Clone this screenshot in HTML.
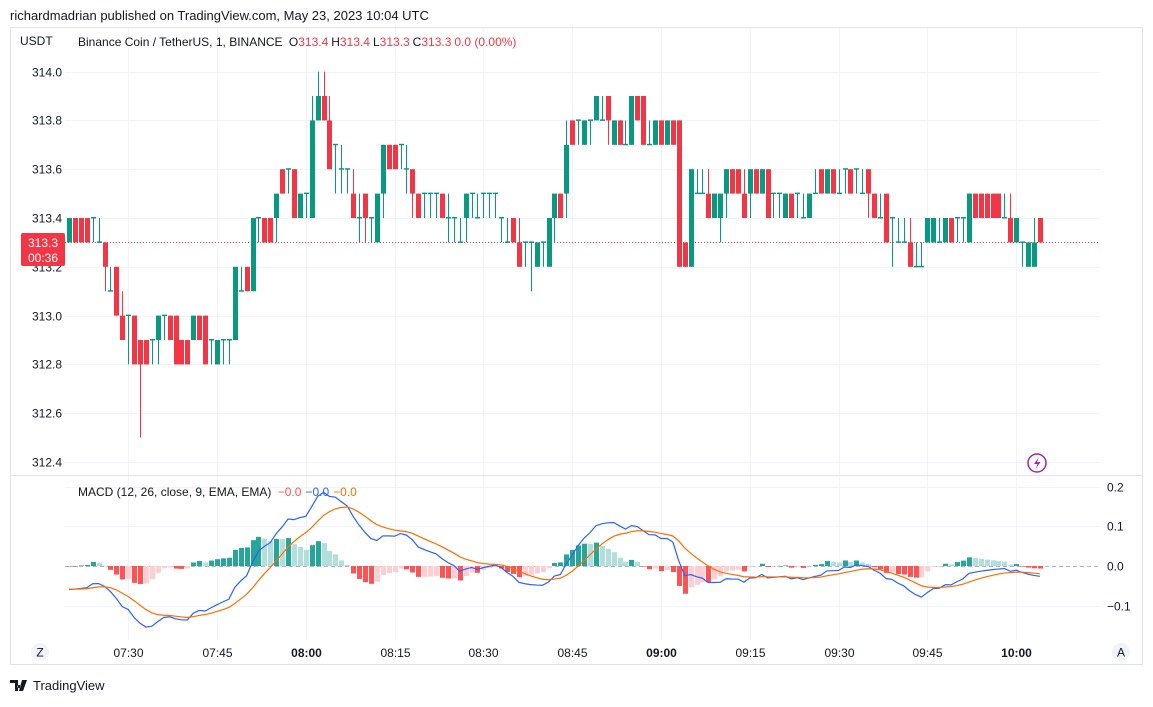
<!DOCTYPE html>
<html><head><meta charset="utf-8"><style>
body{margin:0;background:#fff;width:1153px;height:702px;overflow:hidden;font-family:"Liberation Sans",sans-serif}
text{font-family:"Liberation Sans",sans-serif}
</style></head><body>
<svg id="chart" width="1153" height="702" xmlns="http://www.w3.org/2000/svg">
<text x="10" y="20" font-size="13" fill="#131722">richardmadrian published on TradingView.com, May 23, 2023 10:04 UTC</text>
<rect x="10.5" y="27.5" width="1132" height="637" fill="none" stroke="#e0e3eb"/>
<g id="grid"></g>
<line x1="10" x2="1143" y1="475.5" y2="475.5" stroke="#e0e3eb"/>
<g id="candles"></g>
<g id="macd"></g>
<g id="axes"></g>
<text x="20" y="45" font-size="12" fill="#131722">USDT</text>
<text x="78" y="46" font-size="12" fill="#131722">Binance Coin / TetherUS, 1, BINANCE <tspan dx="3">O</tspan><tspan fill="#f23645">313.4</tspan><tspan dx="3">H</tspan><tspan fill="#f23645">313.4</tspan><tspan dx="3">L</tspan><tspan fill="#f23645">313.3</tspan><tspan dx="3">C</tspan><tspan fill="#f23645">313.3</tspan><tspan dx="3" fill="#f23645">0.0 (0.00%)</tspan></text>
<text x="78" y="496" font-size="12" fill="#131722">MACD (12, 26, close, 9, EMA, EMA) <tspan dx="3" fill="#ff5252">−0.0</tspan><tspan dx="4" fill="#2962ff">−0.0</tspan><tspan dx="4" fill="#ff6d00">−0.0</tspan></text>
<g><rect x="21" y="233" width="44" height="33" rx="2" fill="#f23645"/><text x="43" y="247" font-size="12" fill="#fff" text-anchor="middle">313.3</text><text x="43" y="262" font-size="12" fill="#fff" text-anchor="middle">00:36</text></g>
<g><circle cx="1037" cy="463" r="9" fill="none" stroke="#9c27b0" stroke-width="1.5"/><path d="M1039 457 L1034 464 L1037.5 464 L1035.5 469 L1040.5 462 L1037 462 Z" fill="#9c27b0"/></g>
<g><circle cx="40" cy="652" r="9" fill="#f0f3fa"/><text x="40" y="656.5" font-size="12" fill="#131722" text-anchor="middle">Z</text></g>
<g><circle cx="1121" cy="652" r="9" fill="#f0f3fa"/><text x="1121" y="656.5" font-size="12" fill="#131722" text-anchor="middle">A</text></g>
<g><path d="M10 680h8v11h-3v-8h-5z M19 685a1.6 1.6 0 1 0 0.01 0z M22 680h5l-4 11h-4z" fill="#131722"/><text x="33" y="690" font-size="13" fill="#131722">TradingView</text></g>
</svg>
<script>
const opens=[313.3,313.4,313.4,313.4,313.4,313.3,313.3,313.1,313.2,313.0,313.0,313.0,312.9,312.9,312.9,312.9,313.0,313.0,313.0,312.9,312.9,312.9,313.0,313.0,312.9,312.8,312.9,312.9,312.9,313.1,313.2,313.1,313.4,313.4,313.4,313.4,313.6,313.6,313.6,313.4,313.5,313.4,313.8,313.9,313.8,313.7,313.6,313.6,313.5,313.4,313.5,313.4,313.3,313.5,313.7,313.7,313.7,313.6,313.6,313.5,313.5,313.5,313.5,313.5,313.4,313.4,313.3,313.4,313.5,313.4,313.5,313.5,313.5,313.4,313.3,313.4,313.3,313.3,313.3,313.2,313.3,313.2,313.4,313.5,313.5,313.8,313.8,313.7,313.8,313.8,313.8,313.9,313.7,313.8,313.7,313.7,313.9,313.9,313.7,313.7,313.8,313.7,313.8,313.8,313.3,313.2,313.5,313.5,313.5,313.4,313.4,313.5,313.6,313.6,313.5,313.5,313.6,313.5,313.6,313.5,313.5,313.4,313.5,313.5,313.4,313.4,313.5,313.6,313.5,313.6,313.5,313.6,313.6,313.6,313.5,313.6,313.5,313.4,313.5,313.4,313.3,313.3,313.3,313.2,313.2,313.3,313.3,313.3,313.3,313.4,313.4,313.4,313.3,313.5,313.5,313.5,313.5,313.5,313.4,313.4,313.3,313.3,313.2,313.2,313.4];
const highs=[313.4,313.4,313.4,313.4,313.4,313.4,313.3,313.2,313.2,313.1,313.0,313.0,312.9,312.9,312.9,313.0,313.0,313.0,313.0,312.9,312.9,313.0,313.0,313.0,312.9,312.9,312.9,312.9,313.2,313.2,313.2,313.4,313.4,313.4,313.4,313.5,313.6,313.6,313.6,313.5,313.5,313.9,314.0,314.0,313.9,313.7,313.7,313.6,313.6,313.5,313.5,313.4,313.5,313.7,313.7,313.7,313.7,313.7,313.6,313.5,313.5,313.5,313.5,313.5,313.5,313.4,313.4,313.5,313.5,313.5,313.5,313.5,313.5,313.4,313.4,313.4,313.4,313.3,313.3,313.3,313.3,313.4,313.5,313.5,313.8,313.8,313.8,313.8,313.8,313.9,313.9,313.9,313.8,313.8,313.8,313.9,313.9,313.9,313.8,313.8,313.8,313.8,313.8,313.8,313.3,313.6,313.6,313.6,313.6,313.5,313.5,313.6,313.6,313.6,313.6,313.6,313.6,313.6,313.6,313.5,313.5,313.5,313.5,313.5,313.5,313.5,313.6,313.6,313.6,313.6,313.6,313.6,313.6,313.6,313.6,313.6,313.5,313.5,313.5,313.4,313.4,313.4,313.4,313.3,313.3,313.4,313.4,313.4,313.4,313.4,313.4,313.4,313.5,313.5,313.5,313.5,313.5,313.5,313.5,313.5,313.4,313.3,313.3,313.4,313.4];
const lows=[313.3,313.3,313.3,313.3,313.3,313.3,313.1,313.1,313.0,312.9,312.8,312.8,312.5,312.8,312.8,312.8,312.9,312.9,312.8,312.8,312.8,312.9,312.9,312.8,312.8,312.8,312.8,312.8,312.9,313.1,313.1,313.1,313.3,313.3,313.3,313.3,313.5,313.5,313.4,313.4,313.4,313.4,313.8,313.8,313.6,313.5,313.5,313.5,313.4,313.3,313.3,313.3,313.3,313.4,313.6,313.6,313.6,313.5,313.4,313.4,313.4,313.4,313.4,313.4,313.3,313.3,313.3,313.3,313.4,313.4,313.4,313.4,313.4,313.3,313.3,313.3,313.2,313.2,313.1,313.2,313.2,313.2,313.3,313.4,313.4,313.7,313.7,313.7,313.7,313.8,313.8,313.7,313.7,313.7,313.7,313.7,313.8,313.7,313.7,313.7,313.7,313.7,313.7,313.2,313.2,313.2,313.5,313.5,313.4,313.4,313.3,313.4,313.5,313.5,313.4,313.4,313.5,313.5,313.4,313.4,313.4,313.4,313.4,313.4,313.4,313.4,313.5,313.5,313.5,313.5,313.5,313.5,313.5,313.5,313.5,313.4,313.4,313.4,313.3,313.2,313.3,313.3,313.2,313.2,313.2,313.3,313.3,313.3,313.3,313.3,313.3,313.3,313.3,313.4,313.4,313.4,313.4,313.4,313.4,313.3,313.3,313.2,313.2,313.2,313.3];
const closes=[313.4,313.3,313.3,313.3,313.4,313.3,313.2,313.1,313.0,312.9,313.0,312.8,312.8,312.8,312.9,313.0,313.0,312.9,312.8,312.8,312.8,313.0,312.9,312.8,312.9,312.9,312.9,312.9,313.2,313.1,313.1,313.4,313.4,313.3,313.3,313.5,313.5,313.6,313.4,313.5,313.5,313.8,313.9,313.8,313.6,313.7,313.6,313.6,313.4,313.4,313.4,313.4,313.5,313.7,313.6,313.6,313.7,313.6,313.5,313.4,313.5,313.5,313.5,313.4,313.4,313.4,313.3,313.5,313.5,313.4,313.5,313.5,313.5,313.4,313.3,313.3,313.2,313.3,313.3,313.3,313.3,313.4,313.5,313.4,313.7,313.7,313.8,313.8,313.8,313.9,313.8,313.8,313.8,313.7,313.7,313.9,313.8,313.7,313.7,313.8,313.7,313.8,313.7,313.2,313.2,313.6,313.5,313.5,313.4,313.5,313.5,313.6,313.5,313.5,313.4,313.6,313.5,313.6,313.4,313.5,313.5,313.5,313.4,313.5,313.4,313.5,313.5,313.5,313.6,313.5,313.5,313.6,313.5,313.6,313.5,313.5,313.4,313.4,313.3,313.4,313.3,313.3,313.2,313.2,313.2,313.4,313.4,313.3,313.4,313.3,313.4,313.4,313.5,313.4,313.4,313.4,313.4,313.4,313.4,313.3,313.4,313.3,313.3,313.3,313.3];
const priceTicks=["314.0","313.8","313.6","313.4","313.2","313.0","312.8","312.6","312.4"];
const macdTicks=["0.2","0.1","0.0","−0.1"];
const macdTickVals=[0.2,0.1,0,-0.1];
const timeLabels=["07:30","07:45","08:00","08:15","08:30","08:45","09:00","09:15","09:30","09:45","10:00"];
const timeLabelIdx=[10,25,40,55,70,85,100,115,130,145,160];
const boldTimes=["08:00","09:00","10:00"];
const lastPrice=313.3;
const NS="http://www.w3.org/2000/svg";
const xAt=i=>69+i*5.92;
const yP=p=>218-(p-313.4)*244;
const yM=v=>566-v*397;
function mk(tag,attrs,parent){const e=document.createElementNS(NS,tag);for(const k in attrs)e.setAttribute(k,attrs[k]);parent.appendChild(e);return e;}
const grid=document.getElementById('grid'),axes=document.getElementById('axes'),cg=document.getElementById('candles'),mg=document.getElementById('macd');
priceTicks.forEach(t=>{const y=Math.round(yP(parseFloat(t)))+0.5;
 const l=mk('line',{x1:65,x2:1100,y1:y,y2:y,stroke:'#f0f3fa'},grid);
 
 
 const tx=mk('text',{x:62,y:y+4,'font-size':12,fill:'#131722','text-anchor':'end'},axes);tx.textContent=t;
 
 });
macdTickVals.forEach((v,i)=>{const y=Math.round(yM(v))+0.5;
 const l=mk('line',{x1:65,x2:1100,y1:y,y2:y,stroke:'#f0f3fa'},grid);
 
 
 const tx=mk('text',{x:1107,y:y+4,'font-size':12,fill:'#131722'},axes);tx.textContent=macdTicks[i];
 
 });
timeLabels.forEach((t,i)=>{const x=Math.round(xAt(timeLabelIdx[i]))+0.5;
 const l=mk('line',{x1:x,x2:x,y1:28,y2:640,stroke:'#f0f3fa'},grid);
 
 
 const tx=mk('text',{x:x,y:657,'font-size':12,fill:'#131722','text-anchor':'middle','font-weight':boldTimes.includes(t)?'bold':'normal'},axes);tx.textContent=t;
 
 });
const pl=mk('line',{x1:65,x2:1100,y1:Math.round(yP(lastPrice))+0.5,y2:Math.round(yP(lastPrice))+0.5,stroke:'#f23645','stroke-dasharray':'1 2'},cg);


opens.forEach((o,i)=>{const c=closes[i],up=c>=o,col=up?'#089981':'#f23645',x=Math.round(xAt(i));
 const g=mk('g',{},cg);
 
 
 mk('rect',{x:x,y:yP(highs[i]),width:1,height:Math.max(1,yP(lows[i])-yP(highs[i])),fill:col},g);
 const top=yP(Math.max(o,c)),bot=yP(Math.min(o,c));
 mk('rect',{x:x-2,y:top-(bot-top<1?1:0),width:5,height:Math.max(1.5,bot-top),fill:col},g);});
// MACD computed from closes
let fast=313.33,slow=313.40,sig=-0.058;const macdVals=[],sigVals=[];
const a12=2/13,a26=2/27,a9=2/10;
closes.forEach(c=>{fast+=a12*(c-fast);slow+=a26*(c-slow);const m=fast-slow;sig+=a9*(m-sig);macdVals.push(m);sigVals.push(sig);});
const z=mk('line',{x1:65,x2:1100,y1:566.5,y2:566.5,stroke:'#b2b5be','stroke-dasharray':'4 3'},mg);


let prevH=0;
macdVals.forEach((m,i)=>{const h=m-sigVals[i];let col;
 if(h>=0)col=h>=prevH?'#26a69a':'#b2dfdb';else col=h<=prevH?'#ff5252':'#ffcdd2';prevH=h;
 const y0=yM(0),y1=yM(h);const r=mk('rect',{x:Math.round(xAt(i))-2,y:Math.min(y0,y1),width:5,height:Math.max(0.5,Math.abs(y1-y0)),fill:col},mg);
 
 });
const lm=mk('polyline',{points:macdVals.map((v,i)=>xAt(i)+','+yM(v)).join(' '),fill:'none',stroke:'#2962ff','stroke-width':1.2},mg);


const ls=mk('polyline',{points:sigVals.map((v,i)=>xAt(i)+','+yM(v)).join(' '),fill:'none',stroke:'#ff6d00','stroke-width':1.2},mg);


</script>
</body></html>
